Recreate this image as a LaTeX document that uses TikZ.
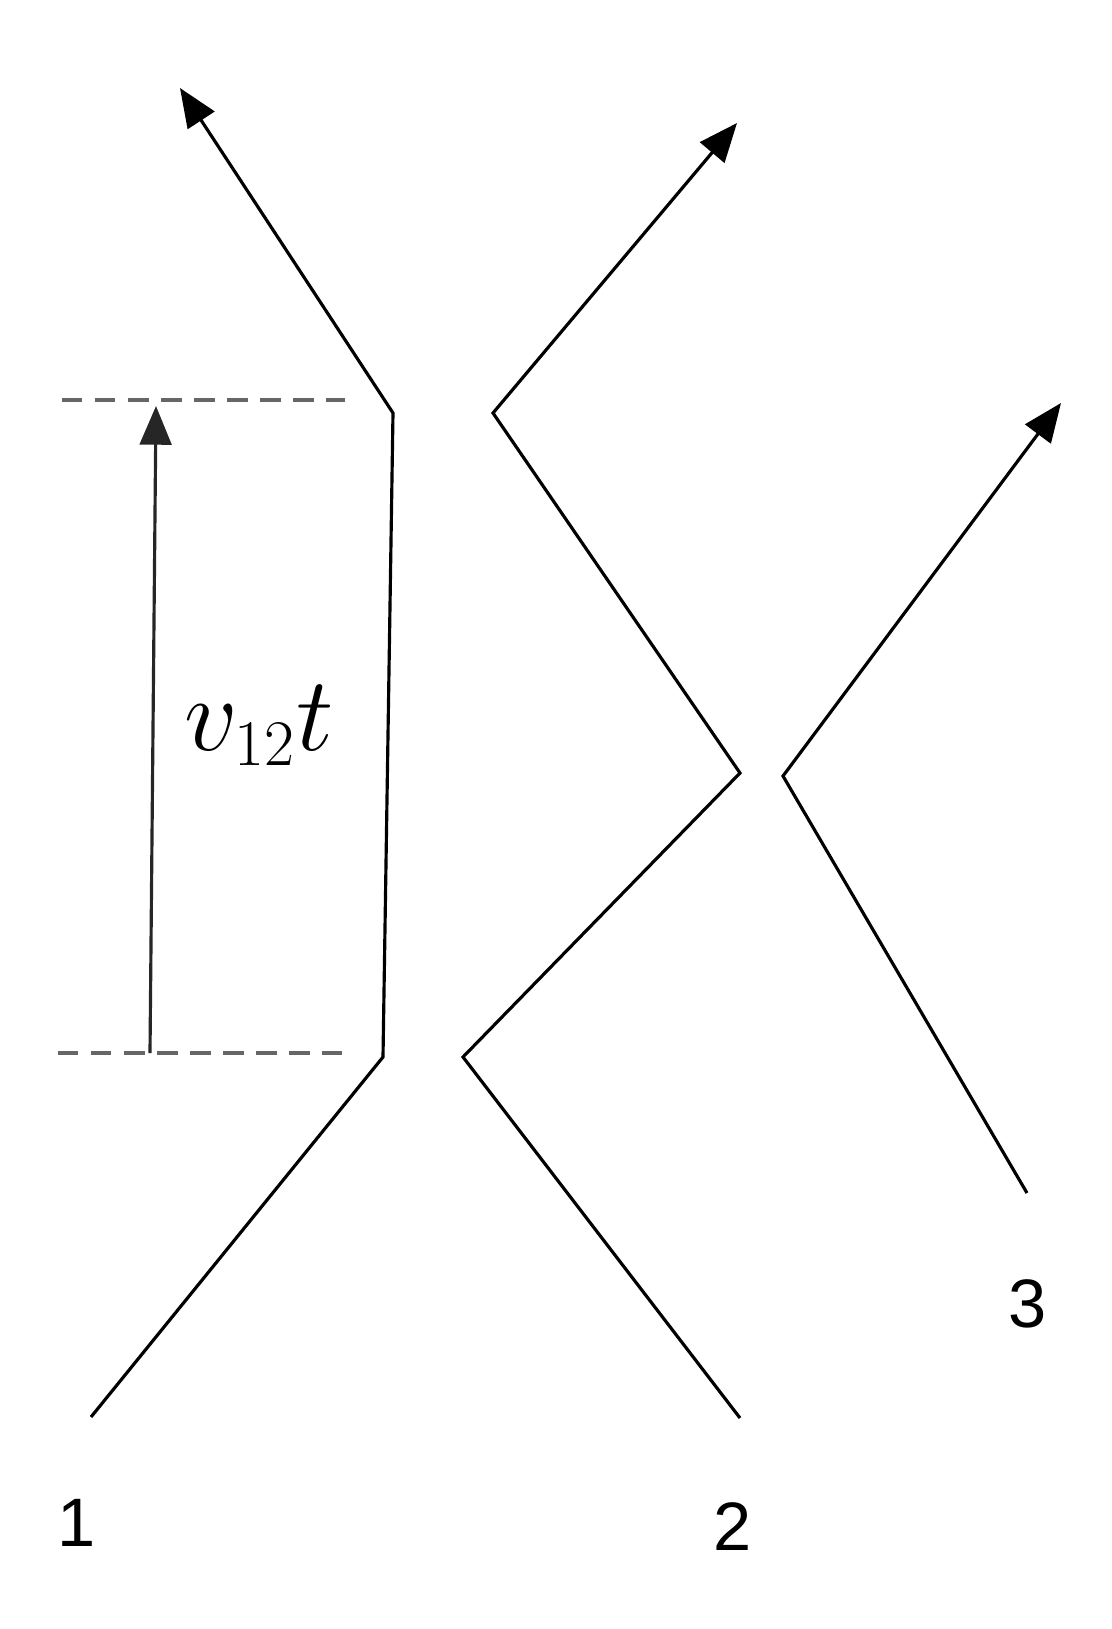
\RequirePackage{fix-cm}
\documentclass[tikz,border=0pt]{standalone}
\usepackage{fontspec}
\newfontfamily\labelfont{Liberation Sans}
\usetikzlibrary{arrows.meta}

\begin{document}
\begin{tikzpicture}[x=0.01cm,y=-0.01cm,
  track/.style={line width=0.9pt,line join=miter},
  guide/.style={line width=0.9pt,black!60,dash pattern=on 5.8pt off 3.6pt},
  tip/.style={-{Triangle[length=11pt,width=9pt]}},
  num/.style={anchor=base,font=\labelfont\fontsize{19.5}{22}\selectfont,inner sep=0pt}]
  \useasboundingbox (0,0) rectangle (1112,1629);
  % particle 1
  \coordinate (a1) at (91,1417);
  \coordinate (b1) at (383,1057);
  \coordinate (c1) at (393,413);
  \coordinate (d1) at (180,88);
  % particle 2
  \coordinate (a2) at (740,1418);
  \coordinate (b2) at (463,1057);
  \coordinate (c2) at (740,773);
  \coordinate (d2) at (493,413);
  \coordinate (e2) at (737,123);
  % particle 3
  \coordinate (a3) at (1027,1193);
  \coordinate (b3) at (783,776);
  \coordinate (c3) at (1061,403);
  % time marks
  \coordinate (top-l) at (62,400);
  \coordinate (top-r) at (345,400);
  \coordinate (bot-l) at (58,1053);
  \coordinate (bot-r) at (342,1053);
  \coordinate (gap-lo) at (150,1053);
  \coordinate (gap-hi) at (156,406);

  \draw[track,tip] (a1) -- (b1) -- (c1) -- (d1);
  \draw[track,tip] (a2) -- (b2) -- (c2) -- (d2) -- (e2);
  \draw[track,tip] (a3) -- (b3) -- (c3);
  \draw[guide] (top-l) -- (top-r);
  \draw[guide] (bot-l) -- (bot-r);
  \draw[track,black!85,tip] (gap-lo) -- (gap-hi);

  \node[anchor=base west,inner sep=0pt,font=\fontsize{30}{34}\selectfont] (vt) at (184,750)
    {$v_{\hbox{\fontsize{18.5}{21}\selectfont$12$}}t$};
  \node[num] (n1) at (77,1546) {1};
  \node[num] (n2) at (733,1550) {2};
  \node[num] (n3) at (1028,1327) {3};
\end{tikzpicture}
\end{document}
